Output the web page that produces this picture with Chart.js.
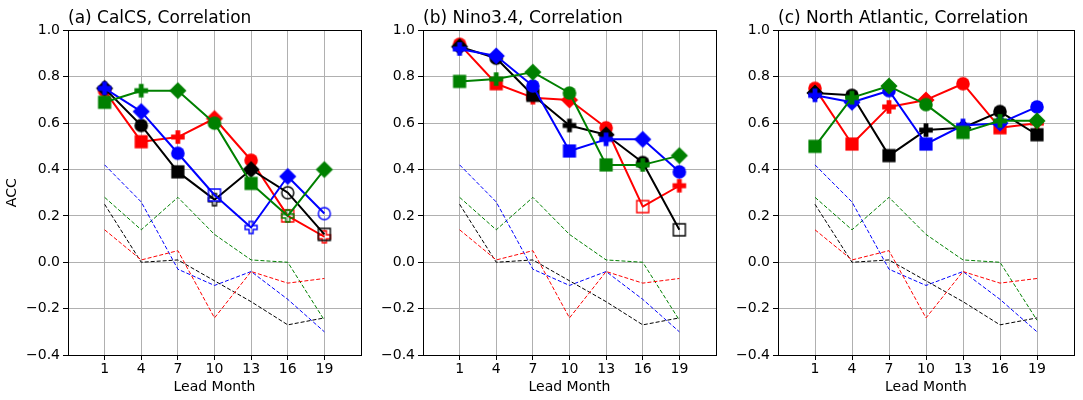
<!DOCTYPE html>
<html>
<head>
<meta charset="utf-8">
<script src="https://cdn.jsdelivr.net/npm/chart.js@4.4.0/dist/chart.umd.min.js"></script>
<style>
    html, body { margin: 0; padding: 0; background: #fff; }
    #wrap { position: relative; width: 1083px; height: 400px; overflow: hidden; }
    #wrap canvas { position: absolute; top: 0; }
</style>
</head>
<body>
<div id="wrap">
    <canvas id="panelA" width="370" height="400" style="left:0px;width:370px;height:400px"></canvas>
    <canvas id="panelB" width="350" height="400" style="left:375px;width:350px;height:400px"></canvas>
    <canvas id="panelC" width="353" height="400" style="left:730px;width:353px;height:400px"></canvas>
</div>
<script>
const leadMonths = [1, 4, 7, 10, 13, 16, 19];

const panelTitles = ['(a) CalCS, Correlation', '(b) Nino3.4, Correlation', '(c) North Atlantic, Correlation'];

// (a) CalCS
const calcsRed   = [0.74, 0.52, 0.54, 0.62, 0.44, 0.20, 0.11];
const calcsBlack = [0.75, 0.59, 0.39, 0.27, 0.40, 0.30, 0.12];
const calcsBlue  = [0.75, 0.65, 0.47, 0.29, 0.15, 0.37, 0.21];
const calcsGreen = [0.69, 0.74, 0.74, 0.60, 0.34, 0.20, 0.40];

// (b) Nino3.4
const ninoRed   = [0.94, 0.77, 0.71, 0.70, 0.58, 0.24, 0.33];
const ninoBlack = [0.93, 0.88, 0.72, 0.59, 0.55, 0.43, 0.14];
const ninoBlue  = [0.92, 0.89, 0.76, 0.48, 0.53, 0.53, 0.39];
const ninoGreen = [0.78, 0.79, 0.82, 0.73, 0.42, 0.42, 0.46];

// (c) North Atlantic
const natlRed   = [0.75, 0.51, 0.67, 0.70, 0.77, 0.58, 0.60];
const natlBlack = [0.73, 0.72, 0.46, 0.57, 0.58, 0.65, 0.55];
const natlBlue  = [0.72, 0.69, 0.74, 0.51, 0.59, 0.60, 0.67];
const natlGreen = [0.50, 0.71, 0.76, 0.68, 0.56, 0.61, 0.61];

// thin dashed reference lines (same in every panel)
const refRed   = [0.14, 0.01, 0.05, -0.24, -0.04, -0.09, -0.07];
const refBlack = [0.25, 0.00, 0.01, -0.08, -0.17, -0.27, -0.24];
const refBlue  = [0.42, 0.26, -0.03, -0.10, -0.04, -0.16, -0.30];
const refGreen = [0.28, 0.14, 0.28, 0.12, 0.01, 0.00, -0.25];

// open markers (1 = not filled)
const calcsRedOpen   = [0, 0, 0, 0, 0, 1, 1];
const calcsBlackOpen = [0, 0, 0, 1, 0, 1, 1];
const calcsBlueOpen  = [0, 0, 0, 1, 1, 0, 1];
const calcsGreenOpen = [0, 0, 0, 0, 0, 1, 0];
const ninoRedOpen    = [0, 0, 0, 0, 0, 1, 0];
const ninoBlackOpen  = [0, 0, 0, 0, 0, 0, 1];
const noneOpen       = [0, 0, 0, 0, 0, 0, 0];

// marker shape at each lead month
const redShapes   = ['circle', 'square', 'plus', 'diamond', 'circle', 'square', 'plus'];
const blackShapes = ['diamond', 'circle', 'square', 'plus', 'diamond', 'circle', 'square'];
const blueShapes  = ['plus', 'diamond', 'circle', 'square', 'plus', 'diamond', 'circle'];
const greenShapes = ['square', 'plus', 'diamond', 'circle', 'square', 'plus', 'diamond'];

const COLORS = { red: '#ff0000', black: '#000000', blue: '#0000ff', green: '#008000' };

Chart.defaults.font.family = "'DejaVu Sans', sans-serif";
Chart.defaults.color = '#000';

const markerCache = {};

function makeMarker(shape, color, open) {
    const key = shape + color + open;
    if (markerCache[key]) return markerCache[key];
    const c = document.createElement('canvas');
    c.width = 22;
    c.height = 22;
    const g = c.getContext('2d');
    g.translate(11, 11);
    g.beginPath();
    if (shape === 'circle') {
        g.arc(0, 0, open ? 6.0 : 6.8, 0, Math.PI * 2);
    } else if (shape === 'square') {
        const s = open ? 6.0 : 6.6;
        g.rect(-s, -s, 2 * s, 2 * s);
    } else if (shape === 'diamond') {
        g.moveTo(0, -8.6); g.lineTo(8.6, 0); g.lineTo(0, 8.6); g.lineTo(-8.6, 0); g.closePath();
    } else {
        const a = open ? 6.0 : 6.8, b = open ? 2.0 : 2.4;
        g.moveTo(-b, -a); g.lineTo(b, -a); g.lineTo(b, -b); g.lineTo(a, -b);
        g.lineTo(a, b); g.lineTo(b, b); g.lineTo(b, a); g.lineTo(-b, a);
        g.lineTo(-b, b); g.lineTo(-a, b); g.lineTo(-a, -b); g.lineTo(-b, -b);
        g.closePath();
    }
    if (open) {
        g.lineWidth = 1.4;
        g.strokeStyle = color;
        g.stroke();
    } else {
        g.fillStyle = color;
        g.fill();
    }
    markerCache[key] = c;
    return c;
}

function solidSet(values, color, shapes, open, order) {
    return {
        data: values.map((v, i) => ({ x: leadMonths[i], y: v })),
        borderColor: color,
        borderWidth: 2,
        borderJoinStyle: 'round',
        pointStyle: shapes.map((s, i) => makeMarker(s, color, open[i])),
        pointRadius: 7,
        order: order
    };
}

function dashedSet(values, color) {
    return {
        data: values.map((v, i) => ({ x: leadMonths[i], y: v })),
        borderColor: color,
        borderWidth: 1,
        borderDash: [4, 2],
        pointRadius: 0,
        order: 10
    };
}

function tickLabel(v) {
    if (Math.abs(v) < 1e-9) v = 0;
    return v.toFixed(1).replace('-', '\u2212');
}

const framePlugin = {
    id: 'frame',
    afterDraw(chart) {
        const { ctx, chartArea: a } = chart;
        ctx.save();
        ctx.strokeStyle = '#000';
        ctx.lineWidth = 1;
        ctx.strokeRect(Math.round(a.left) + 0.5, Math.round(a.top) + 0.5,
            Math.round(a.right - a.left), Math.round(a.bottom - a.top));
        ctx.restore();
    }
};

function makePanel(id, title, series, axisWidth, rightPad, showYTitle) {
    new Chart(document.getElementById(id), {
        type: 'line',
        data: {
            datasets: [
                solidSet(series[0], COLORS.red, redShapes, series[4], 3),
                solidSet(series[1], COLORS.black, blackShapes, series[5], 2),
                solidSet(series[2], COLORS.blue, blueShapes, series[6], 1),
                solidSet(series[3], COLORS.green, greenShapes, series[7], 0),
                dashedSet(refRed, COLORS.red),
                dashedSet(refBlack, COLORS.black),
                dashedSet(refBlue, COLORS.blue),
                dashedSet(refGreen, COLORS.green)
            ]
        },
        options: {
            responsive: false,
            animation: false,
            events: [],
            layout: { padding: { left: 0, right: rightPad, top: 0, bottom: 0 } },
            plugins: {
                legend: { display: false },
                tooltip: { enabled: false },
                title: {
                    display: true,
                    text: title,
                    align: 'start',
                    fullSize: false,
                    font: { size: 17, weight: 'normal' },
                    padding: { top: 8, bottom: 2 }
                }
            },
            scales: {
                x: {
                    type: 'linear',
                    min: -2,
                    max: 22,
                    afterBuildTicks: scale => { scale.ticks = leadMonths.map(v => ({ value: v })); },
                    afterFit: scale => { scale.height = 45; },
                    ticks: { font: { size: 14 }, padding: 1, callback: v => String(v) },
                    grid: { color: '#b0b0b0', tickColor: '#000', tickLength: 5 },
                    border: { color: '#000' },
                    title: { display: true, text: 'Lead Month', font: { size: 14 }, padding: { top: 0, bottom: 4 } }
                },
                y: {
                    min: -0.4,
                    max: 1.0,
                    afterFit: scale => { scale.width = axisWidth; },
                    ticks: { stepSize: 0.2, font: { size: 14 }, padding: 3, callback: tickLabel },
                    grid: { color: '#b0b0b0', tickColor: '#000', tickLength: 5 },
                    border: { color: '#000' },
                    title: { display: showYTitle, text: 'ACC', font: { size: 14 }, padding: { top: 4, bottom: 4 } }
                }
            }
        },
        plugins: [framePlugin]
    });
}

makePanel('panelA', panelTitles[0],
    [calcsRed, calcsBlack, calcsBlue, calcsGreen, calcsRedOpen, calcsBlackOpen, calcsBlueOpen, calcsGreenOpen],
    68, 6, true);
makePanel('panelB', panelTitles[1],
    [ninoRed, ninoBlack, ninoBlue, ninoGreen, ninoRedOpen, ninoBlackOpen, noneOpen, noneOpen],
    48, 6, false);
makePanel('panelC', panelTitles[2],
    [natlRed, natlBlack, natlBlue, natlGreen, noneOpen, noneOpen, noneOpen, noneOpen],
    48, 9, false);
</script>
</body>
</html>
